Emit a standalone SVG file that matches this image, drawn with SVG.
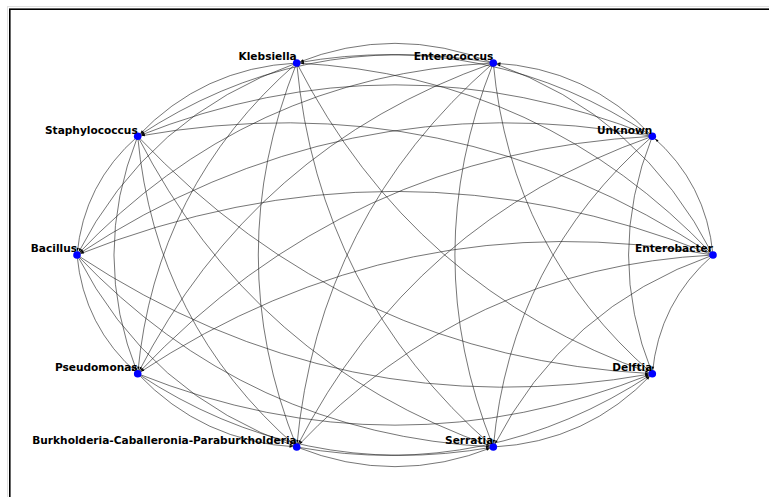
<svg xmlns="http://www.w3.org/2000/svg" width="769" height="497" viewBox="0 0 769 497">
<style>
.e{fill:none;stroke:#1a1a1a;stroke-width:0.6;marker-end:url(#ah)}
.n{fill:#0000ff}
.l{font-family:"DejaVu Sans","Liberation Sans",sans-serif;font-weight:bold;font-size:10.6px;fill:#000;text-anchor:end}
</style>
<defs>
<marker id="ah" markerUnits="userSpaceOnUse" viewBox="-10 -3 10 6" markerWidth="10" markerHeight="6" refX="3.8" refY="0" orient="auto">
<path d="M0,0 L-3.4,-1.2 L-3.4,1.2 z" fill="#000"/>
</marker>
</defs>
<rect width="769" height="497" fill="#fff"/>
<rect x="7.5" y="6.5" width="780" height="520" fill="none" stroke="#e0e0e0" stroke-width="1"/>
<rect x="9.8" y="9.2" width="780" height="520" fill="none" stroke="#000" stroke-width="1.6"/>
<g id="edges">
<path class="e" d="M713,255 Q706.39,183.51 652.3,136.3"/>
<path class="e" d="M713,255 Q641.55,115.06 493.3,63"/>
<path class="e" d="M713,255 Q543.25,75.74 296.7,63"/>
<path class="e" d="M713,255 Q449.09,80.59 137.7,136.3"/>
<path class="e" d="M713,255 Q395,127.8 77,255"/>
<path class="e" d="M713,255 Q401.61,199.29 137.7,373.7"/>
<path class="e" d="M713,255 Q466.45,267.74 296.7,447"/>
<path class="e" d="M713,255 Q564.75,307.06 493.3,447"/>
<path class="e" d="M713,255 Q658.91,302.21 652.3,373.7"/>
<path class="e" d="M652.3,136.3 Q587.46,67.85 493.3,63"/>
<path class="e" d="M652.3,136.3 Q489.16,28.53 296.7,63"/>
<path class="e" d="M652.3,136.3 Q395,33.38 137.7,136.3"/>
<path class="e" d="M652.3,136.3 Q340.91,80.59 77,255"/>
<path class="e" d="M652.3,136.3 Q347.52,152.08 137.7,373.7"/>
<path class="e" d="M652.3,136.3 Q412.36,220.53 296.7,447"/>
<path class="e" d="M652.3,136.3 Q510.66,259.85 493.3,447"/>
<path class="e" d="M652.3,136.3 Q604.82,255 652.3,373.7"/>
<path class="e" d="M493.3,63 Q395,23.68 296.7,63"/>
<path class="e" d="M493.3,63 Q300.84,28.53 137.7,136.3"/>
<path class="e" d="M493.3,63 Q246.75,75.74 77,255"/>
<path class="e" d="M493.3,63 Q253.36,147.23 137.7,373.7"/>
<path class="e" d="M493.3,63 Q318.2,215.68 296.7,447"/>
<path class="e" d="M493.3,63 Q416.5,255 493.3,447"/>
<path class="e" d="M493.3,63 Q510.66,250.15 652.3,373.7"/>
<path class="e" d="M296.7,63 Q202.54,67.85 137.7,136.3"/>
<path class="e" d="M296.7,63 Q148.45,115.06 77,255"/>
<path class="e" d="M296.7,63 Q155.06,186.55 137.7,373.7"/>
<path class="e" d="M296.7,63 Q219.9,255 296.7,447"/>
<path class="e" d="M296.7,63 Q318.2,294.32 493.3,447"/>
<path class="e" d="M296.7,63 Q412.36,289.47 652.3,373.7"/>
<path class="e" d="M137.7,136.3 Q83.61,183.51 77,255"/>
<path class="e" d="M137.7,136.3 Q90.22,255 137.7,373.7"/>
<path class="e" d="M137.7,136.3 Q155.06,323.45 296.7,447"/>
<path class="e" d="M137.7,136.3 Q253.36,362.77 493.3,447"/>
<path class="e" d="M137.7,136.3 Q347.52,357.92 652.3,373.7"/>
<path class="e" d="M77,255 Q83.61,326.49 137.7,373.7"/>
<path class="e" d="M77,255 Q148.45,394.94 296.7,447"/>
<path class="e" d="M77,255 Q246.75,434.26 493.3,447"/>
<path class="e" d="M77,255 Q340.91,429.41 652.3,373.7"/>
<path class="e" d="M137.7,373.7 Q202.54,442.15 296.7,447"/>
<path class="e" d="M137.7,373.7 Q300.84,481.47 493.3,447"/>
<path class="e" d="M137.7,373.7 Q395,476.62 652.3,373.7"/>
<path class="e" d="M296.7,447 Q395,486.32 493.3,447"/>
<path class="e" d="M296.7,447 Q489.16,481.47 652.3,373.7"/>
<path class="e" d="M493.3,447 Q587.46,442.15 652.3,373.7"/>
</g>
<g id="node-enterobacter"><circle class="n" cx="713" cy="255" r="3.8"/><text class="l" x="713" y="252">Enterobacter</text></g>
<g id="node-unknown"><circle class="n" cx="652.3" cy="136.3" r="3.8"/><text class="l" x="652.3" y="133.5">Unknown</text></g>
<g id="node-enterococcus"><circle class="n" cx="493.3" cy="63" r="3.8"/><text class="l" x="493.3" y="60.3">Enterococcus</text></g>
<g id="node-klebsiella"><circle class="n" cx="296.7" cy="63" r="3.8"/><text class="l" x="296.7" y="60.3">Klebsiella</text></g>
<g id="node-staphylococcus"><circle class="n" cx="137.7" cy="136.3" r="3.8"/><text class="l" x="137.7" y="133.5">Staphylococcus</text></g>
<g id="node-bacillus"><circle class="n" cx="77" cy="255" r="3.8"/><text class="l" x="77" y="252">Bacillus</text></g>
<g id="node-pseudomonas"><circle class="n" cx="137.7" cy="373.7" r="3.8"/><text class="l" x="137.7" y="370.8">Pseudomonas</text></g>
<g id="node-burkholderia"><circle class="n" cx="296.7" cy="447" r="3.8"/><text class="l" x="296.7" y="444.2">Burkholderia-Caballeronia-Paraburkholderia</text></g>
<g id="node-serratia"><circle class="n" cx="493.3" cy="447" r="3.8"/><text class="l" x="493.3" y="444.2">Serratia</text></g>
<g id="node-delftia"><circle class="n" cx="652.3" cy="373.7" r="3.8"/><text class="l" x="652.3" y="370.8">Delftia</text></g>
</svg>
